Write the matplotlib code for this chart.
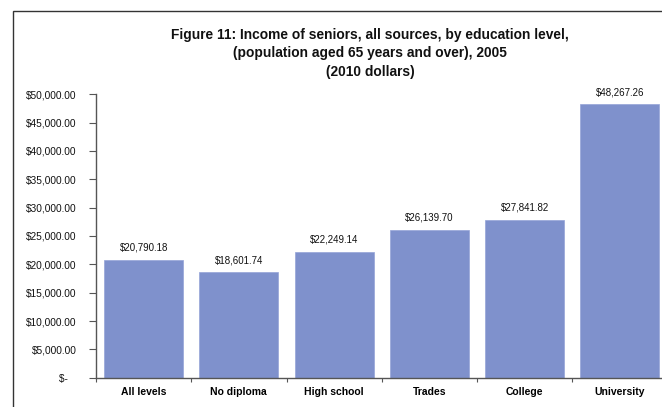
import matplotlib
matplotlib.use("Agg")
import matplotlib.pyplot as plt
from matplotlib.patches import Rectangle
from matplotlib.ticker import FuncFormatter, FixedLocator
import numpy as np

plt.rcParams["font.family"] = ["Liberation Sans", "DejaVu Sans"]

categories = ["All levels", "No diploma", "High school", "Trades", "College", "University"]
incomes = [20790.18, 18601.74, 22249.14, 26139.70, 27841.82, 48267.26]
y_ticks = [0, 5000, 10000, 15000, 20000, 25000, 30000, 35000, 40000, 45000, 50000]

BAR_COLOR = "#7F91CC"
AXIS_COLOR = "#555555"

W, H = 662, 407
fig = plt.figure(figsize=(W / 100, H / 100), dpi=100)

# plot area in pixel coords (left, bottom, right, top)
x0, x1 = 96, 667.5
y_top, y_bot = 94.3, 377.7
ax = fig.add_axes([x0 / W, (H - y_bot) / H, (x1 - x0) / W, (y_bot - y_top) / H])

positions = np.arange(len(categories))
ax.bar(positions, incomes, width=0.83, color=BAR_COLOR, edgecolor="#95A4D8", linewidth=0.5)

ax.set_xlim(-0.5, len(categories) - 0.5)
ax.set_ylim(0, 50000)

# value labels above bars
for x, v in zip(positions, incomes):
    ax.annotate(f"${v:,.2f}", (x, v), xytext=(0, 5), textcoords="offset points",
                ha="center", va="bottom", fontsize=7, color="#111111")

def money(v, pos):
    if v == 0:
        return "$-   "
    return f"${v:,.2f}"

ax.yaxis.set_major_locator(FixedLocator(y_ticks))
ax.yaxis.set_major_formatter(FuncFormatter(money))
ax.tick_params(axis="y", direction="out", length=5, width=0.8, color=AXIS_COLOR,
               labelsize=7.3, pad=9, labelcolor="#111111")

# category labels at centres, tick marks at boundaries
ax.set_xticks(positions)
ax.set_xticklabels(categories, fontsize=7.5, fontweight="bold")
ax.set_xticks(np.arange(-0.5, len(categories)), minor=True)
ax.tick_params(axis="x", which="major", length=0, pad=7)
ax.tick_params(axis="x", which="minor", direction="out", length=3, width=0.8, color=AXIS_COLOR)

for side in ("top", "right"):
    ax.spines[side].set_visible(False)
for side in ("left", "bottom"):
    ax.spines[side].set_color(AXIS_COLOR)
    ax.spines[side].set_linewidth(1)

title = ("Figure 11: Income of seniors, all sources, by education level,\n"
         "(population aged 65 years and over), 2005\n"
         "(2010 dollars)")
fig.text(370 / W, (H - 53.5) / H, title, ha="center", va="center", fontsize=9.9,
         fontweight="bold", linespacing=1.45, color="#111111")

# outer chart frame
fig.patches.append(Rectangle((12.7 / W, -0.05), 1.1, (H - 11) / H + 0.05,
                             transform=fig.transFigure, fill=False,
                             edgecolor="#333333", linewidth=1, clip_on=False))

fig.savefig("out.png", dpi=100)
